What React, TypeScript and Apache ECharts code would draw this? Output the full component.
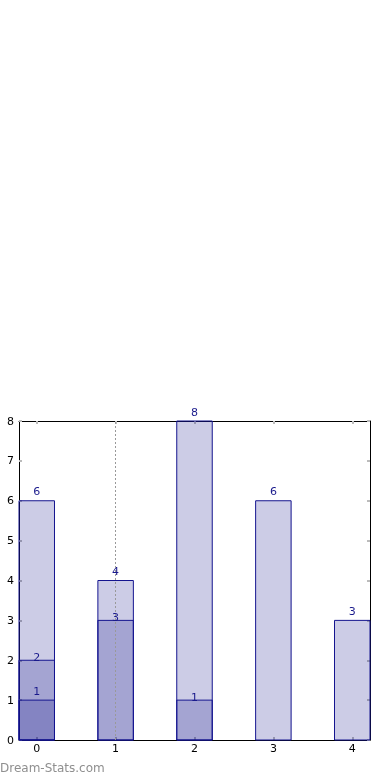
import React, { useEffect, useRef } from "react";
import * as echarts from "echarts";

const xTicks = [0, 1, 2, 3, 4];
const seriesA = [6, 4, 8, 6, 3];
const seriesB = [2, 3, 1];
const seriesC = [1];
const dottedAt = [1];
const barWidth = 0.45;

const FONT = "DejaVu Sans";

function makeRender(labelGap: number) {
  return (params: any, api: any) => {
    const x = api.value(0);
    const v = api.value(1);
    const tl = api.coord([x - barWidth / 2, v]);
    const br = api.coord([x + barWidth / 2, 0]);
    return {
      type: "group",
      children: [
        {
          type: "rect",
          shape: { x: tl[0], y: tl[1], width: br[0] - tl[0], height: br[1] - tl[1] },
          style: { fill: "rgba(0,0,128,0.2)", stroke: "#14148f", lineWidth: 1 },
        },
        {
          type: "text",
          style: {
            text: String(v),
            x: (tl[0] + br[0]) / 2,
            y: tl[1] - labelGap,
            align: "center",
            verticalAlign: "middle",
            fill: "#1a1a8c",
            fontSize: 11,
            fontFamily: FONT,
          },
        },
      ],
    };
  };
}

const toData = (arr: number[]) => arr.map((v, i) => [xTicks[i], v]);

export default function App() {
  const ref = useRef<HTMLDivElement>(null);
  useEffect(() => {
    const chart = echarts.init(ref.current!, null, { renderer: "svg" });
    const tickStyle = { color: "#bbb", width: 2 };
    const axisLine = { show: true, onZero: false, lineStyle: { color: "#000", width: 1 } };
    chart.setOption({
      animation: false,
      textStyle: { fontFamily: FONT },
      grid: { left: 19, right: 20, top: 421, bottom: 40, containLabel: false },
      xAxis: [
        {
          type: "value",
          position: "bottom",
          min: -barWidth / 2,
          max: xTicks[xTicks.length - 1] + barWidth / 2,
          axisLine,
          splitLine: { show: false },
          axisTick: { show: true, inside: true, length: 3, lineStyle: tickStyle, customValues: xTicks },
          axisLabel: { show: true, color: "#000", fontSize: 11, margin: 3, customValues: xTicks, fontFamily: FONT },
        },
        {
          type: "value",
          position: "top",
          min: -barWidth / 2,
          max: xTicks[xTicks.length - 1] + barWidth / 2,
          axisLine,
          splitLine: { show: false },
          axisTick: { show: true, inside: true, length: 3, lineStyle: tickStyle, customValues: xTicks },
          axisLabel: { show: false },
        },
      ],
      yAxis: [
        {
          type: "value",
          position: "left",
          min: 0,
          max: 8,
          interval: 1,
          axisLine,
          splitLine: { show: false },
          axisTick: { show: true, inside: true, length: 3, lineStyle: tickStyle },
          axisLabel: { show: true, color: "#000", fontSize: 11, margin: 5, fontFamily: FONT },
        },
        {
          type: "value",
          position: "right",
          min: 0,
          max: 8,
          interval: 1,
          axisLine,
          splitLine: { show: false },
          axisTick: { show: true, inside: true, length: 3, lineStyle: tickStyle },
          axisLabel: { show: false },
        },
      ],
      series: [
        {
          type: "custom",
          name: "A",
          renderItem: makeRender(9),
          data: toData(seriesA),
          clip: false,
          z: 2,
        },
        {
          type: "custom",
          name: "B",
          renderItem: makeRender(3),
          data: toData(seriesB),
          clip: false,
          z: 3,
        },
        {
          type: "custom",
          name: "C",
          renderItem: makeRender(9),
          data: toData(seriesC),
          clip: false,
          z: 4,
          markLine: {
            silent: true,
            symbol: "none",
            label: { show: false },
            lineStyle: { type: [2, 2], color: "#999", width: 1 },
            data: dottedAt.map((x) => ({ xAxis: x })),
          },
        },
      ],
      graphic: [
        {
          type: "text",
          left: 0,
          top: 762,
          style: { text: "Dream-Stats.com", fill: "#8f8f8f", fontSize: 12, fontWeight: "normal", fontFamily: FONT },
        },
      ],
    });
    return () => chart.dispose();
  }, []);
  return <div ref={ref} style={{ position: "fixed", left: 0, top: 0, width: 390, height: 780 }} />;
}
